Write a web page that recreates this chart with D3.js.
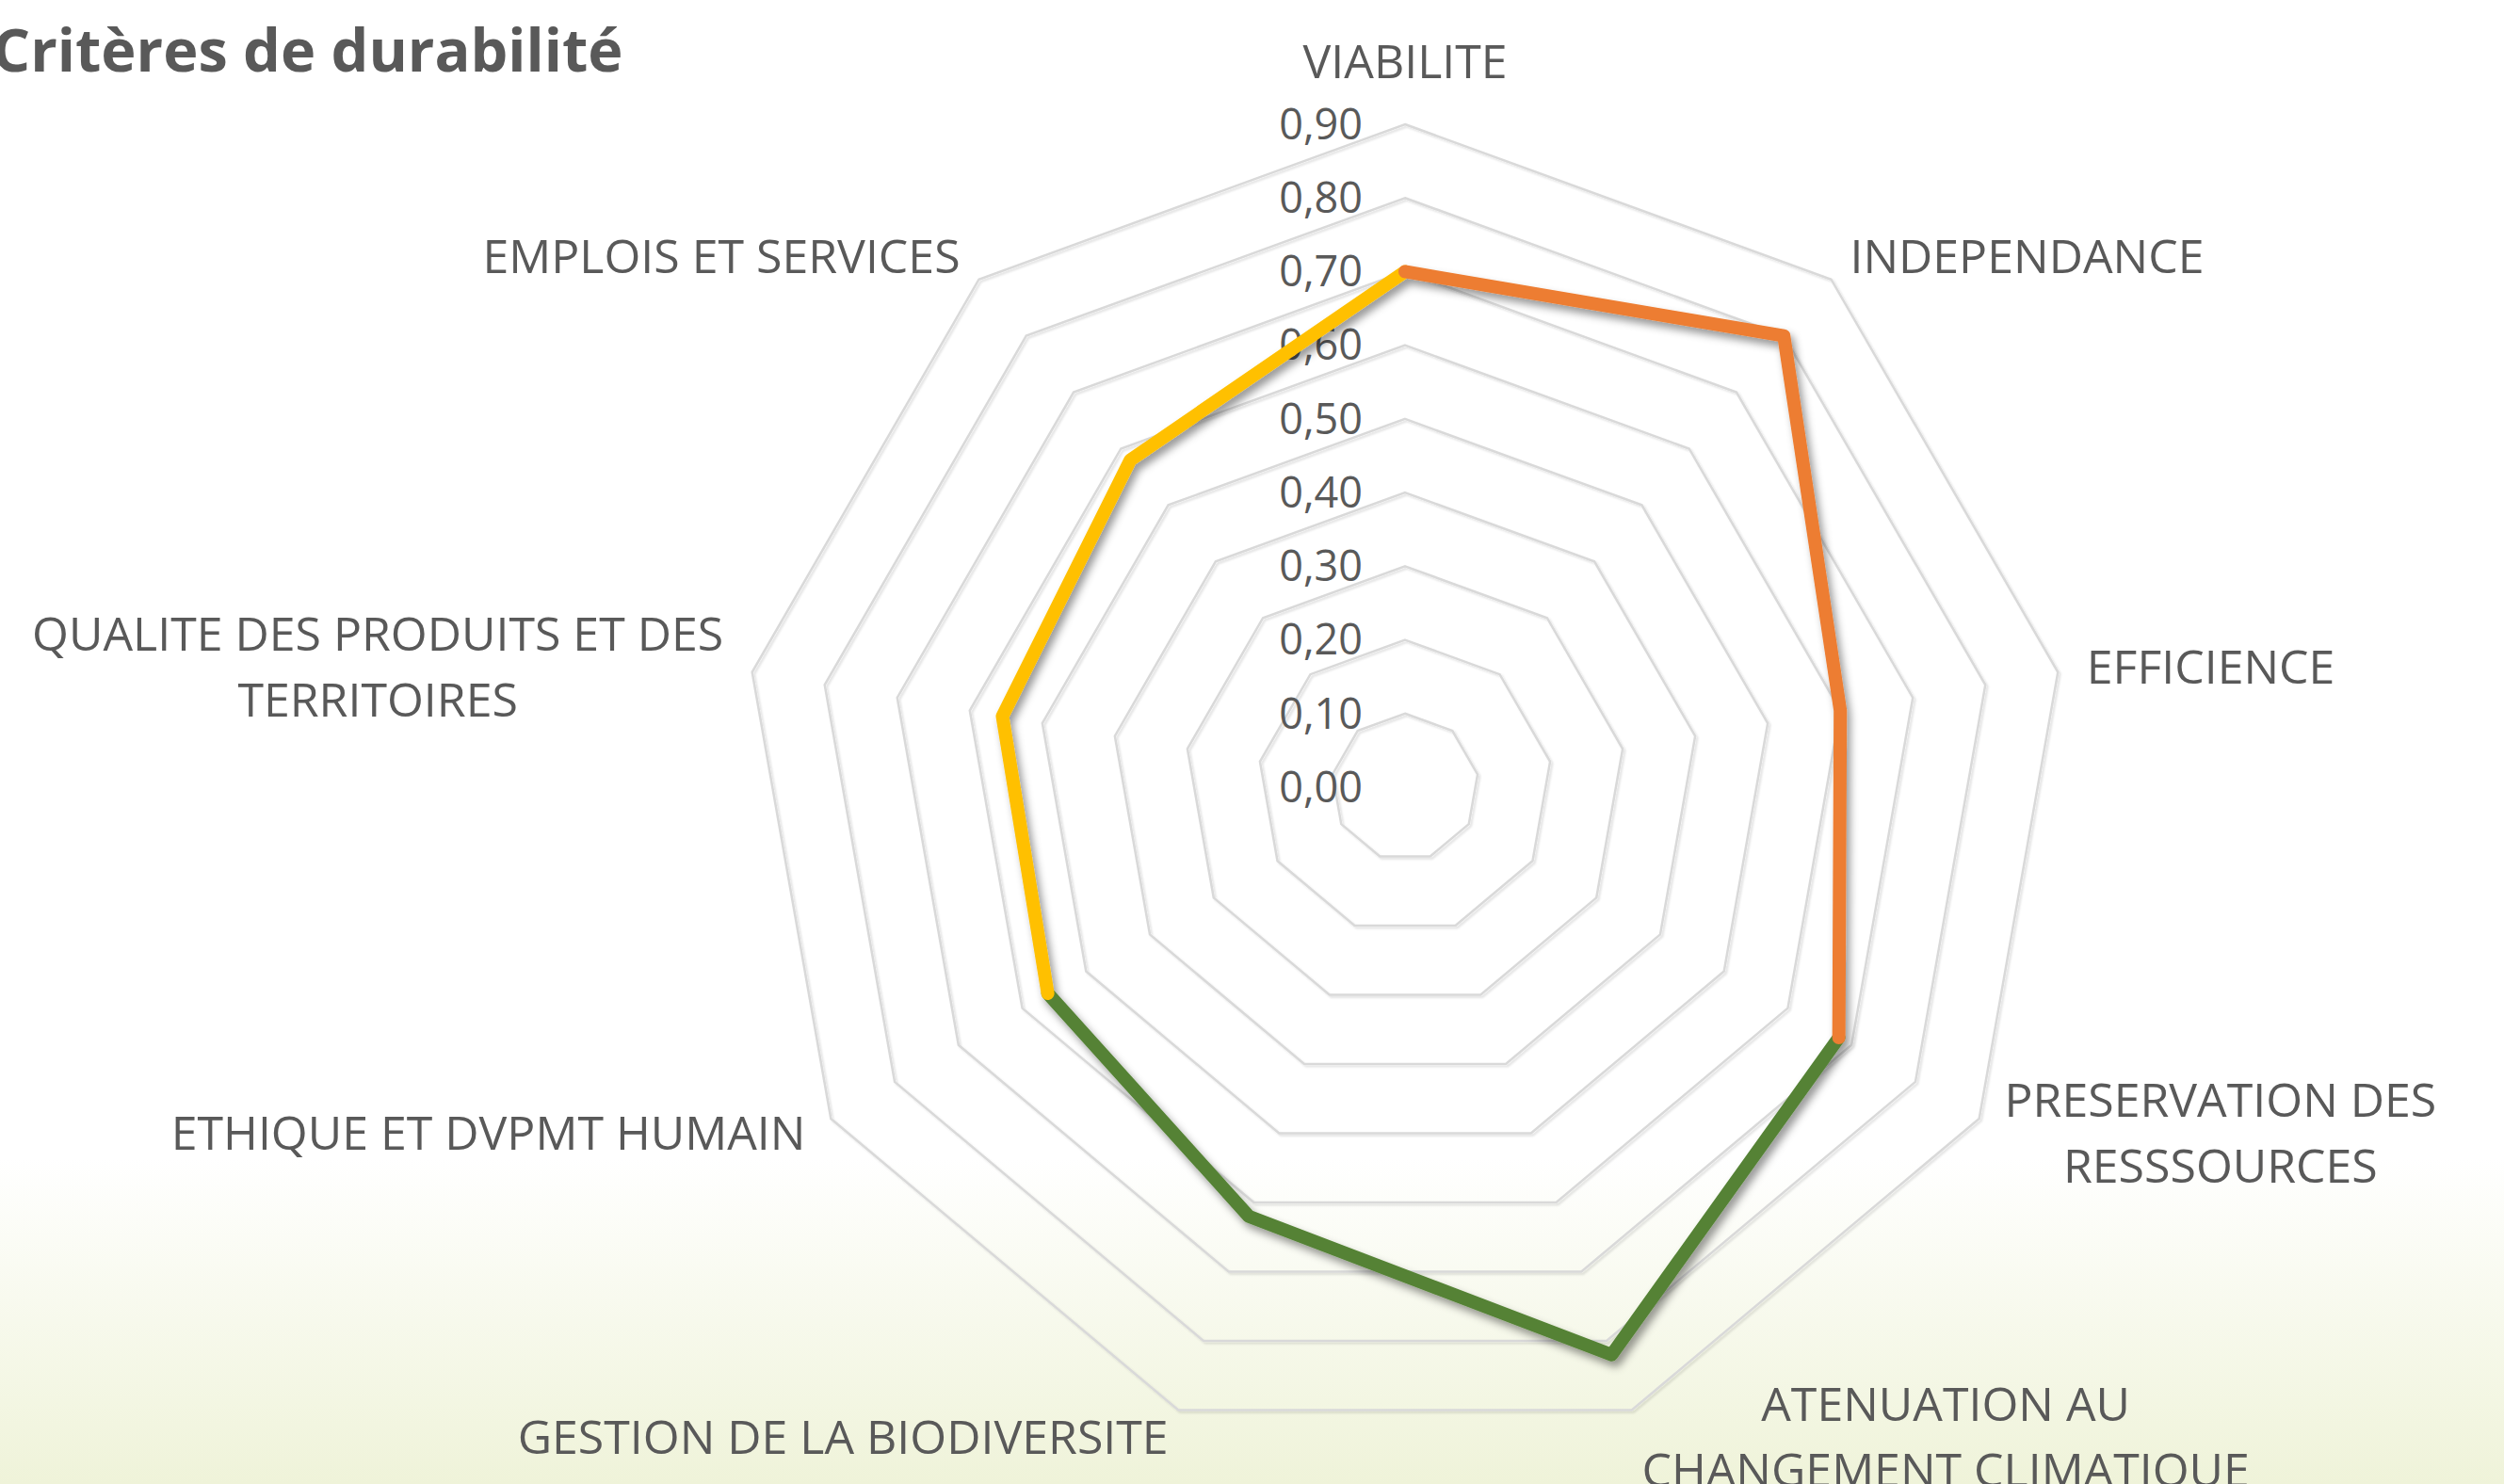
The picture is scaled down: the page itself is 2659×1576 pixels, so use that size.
<!DOCTYPE html>
<html>
<head>
<meta charset="utf-8">
<script src="https://cdn.jsdelivr.net/npm/d3@7"></script>
<style>
  body { margin: 0; background: #fff; }
  svg { display: block; }
  text { font-family: "Open Sans", "Noto Sans", sans-serif; fill: #595959; }
</style>
</head>
<body>
<svg width="2659" height="1576"></svg>
<script>
// Data
var categories = [
    "VIABILITE",
    "INDEPENDANCE",
    "EFFICIENCE",
    "PRESERVATION DES|RESSSOURCES",
    "ATENUATION AU|CHANGEMENT CLIMATIQUE",
    "GESTION DE LA BIODIVERSITE",
    "ETHIQUE ET DVPMT HUMAIN",
    "QUALITE DES PRODUITS ET DES|TERRITOIRES",
    "EMPLOIS ET SERVICES"
];
// three series, each covering part of the circle (null = blank cell)
var economique    = [0.70, 0.80, 0.60, 0.68, null, null, null, null, null];
var environnement = [null, null, null, 0.68, 0.82, 0.62, 0.56, null, null];
var social        = [0.70, null, null, null, null, null, 0.56, 0.555, 0.58];
var tickValues = [0, 0.1, 0.2, 0.3, 0.4, 0.5, 0.6, 0.7, 0.8, 0.9];

var series = [
    {name: "environnement", values: environnement, color: "#548235"},
    {name: "social", values: social, color: "#FFC000"},
    {name: "economique", values: economique, color: "#ED7D31"}
];

var svg = d3.select("svg"),
    width = +svg.attr("width"),
    height = +svg.attr("height");

var cx = 1492, cy = 836;
var r = d3.scaleLinear().domain([0, 0.9]).range([0, 704]);
var angle = i => i * 2 * Math.PI / categories.length;
var fmt = d3.formatLocale({decimal: ",", thousands: " ", grouping: [3], currency: ["", "€"]}).format(".2f");

var defs = svg.append("defs");
var grad = defs.append("linearGradient")
    .attr("id", "bg").attr("x1", 0).attr("y1", 0).attr("x2", 0).attr("y2", 1);
grad.append("stop").attr("offset", "0").attr("stop-color", "#ffffff");
grad.append("stop").attr("offset", "1").attr("stop-color", "#eff3d9");

var shadow = defs.append("filter").attr("id", "shadow")
    .attr("x", "-10%").attr("y", "-10%").attr("width", "120%").attr("height", "120%");
shadow.append("feDropShadow")
    .attr("dx", 4).attr("dy", 6).attr("stdDeviation", 4)
    .attr("flood-color", "#000").attr("flood-opacity", 0.4);

var gridShadow = defs.append("filter").attr("id", "gridshadow");
gridShadow.append("feDropShadow")
    .attr("dx", 2).attr("dy", 2).attr("stdDeviation", 1)
    .attr("flood-color", "#000").attr("flood-opacity", 0.12);

// background: white with a pale green band at the bottom
svg.append("rect").attr("width", width).attr("height", height).attr("fill", "#fff");
svg.append("rect").attr("x", 0).attr("y", 1230).attr("width", width).attr("height", height - 1230)
    .attr("fill", "url(#bg)");

// Title
svg.append("text")
    .attr("x", -8).attr("y", 76)
    .attr("font-size", 63).attr("font-weight", "bold")
    .text("Critères de durabilité");

var g = svg.append("g").attr("transform", "translate(" + cx + "," + cy + ")");

// grid rings
var ring = d3.lineRadial()
    .angle((d, i) => angle(i))
    .radius(d => r(d))
    .curve(d3.curveLinearClosed);

g.append("g")
    .attr("fill", "none")
    .attr("stroke", "#d9d9d9")
    .attr("stroke-width", 2.5)
    .attr("filter", "url(#gridshadow)")
    .selectAll("path")
    .data(tickValues.filter(v => v > 0))
    .join("path")
        .attr("d", v => ring(categories.map(() => v)));

// tick labels
g.append("g")
    .selectAll("text")
    .data(tickValues)
    .join("text")
        .attr("x", -45)
        .attr("y", v => -r(v))
        .attr("dy", "0.35em")
        .attr("text-anchor", "end")
        .attr("font-size", 45)
        .text(v => fmt(v));

// series lines
var line = d3.lineRadial()
    .defined(d => d != null)
    .angle((d, i) => angle(i))
    .radius(d => r(d));

g.append("g")
    .attr("fill", "none")
    .attr("stroke-width", 14)
    .attr("stroke-linejoin", "round")
    .attr("stroke-linecap", "round")
    .attr("filter", "url(#shadow)")
    .selectAll("path")
    .data(series)
    .join("path")
        .attr("stroke", d => d.color)
        .attr("d", d => line(d.values.concat([d.values[0]])));

// category labels
var labelR = 735, lineH = 70;
var labels = g.append("g")
    .selectAll("g")
    .data(categories)
    .join("g")
        .attr("transform", (d, i) => {
            var a = angle(i);
            return "translate(" + (labelR * Math.sin(a)) + "," + (-labelR * Math.cos(a)) + ")";
        });

labels.each(function(d, i) {
    var sel = d3.select(this);
    var lines = d.split("|");
    var t = sel.selectAll("text")
        .data(lines)
        .join("text")
            .attr("font-size", 50)
            .attr("text-anchor", "middle")
            .text(s => s);
    var w = d3.max(t.nodes(), n => n.getComputedTextLength());
    var s = Math.sin(angle(i));
    var x0 = s > 0.01 ? w / 2 : (s < -0.01 ? -w / 2 : 0);
    var n = lines.length;
    // top label sits above its anchor, the others are centred on it
    var y0 = i === 0 ? -36 - (n - 1) * lineH : -(n - 1) * lineH / 2;
    t.attr("x", x0)
        .attr("y", (s, k) => y0 + k * lineH)
        .attr("dy", "0.35em");
});
</script>
</body>
</html>
